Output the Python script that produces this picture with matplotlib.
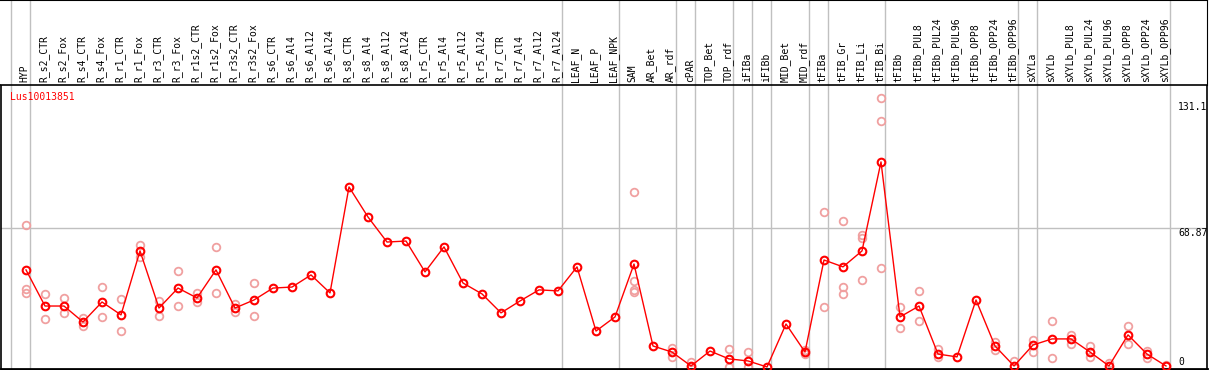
import matplotlib
matplotlib.use('Agg')
import matplotlib.pyplot as plt
import matplotlib.transforms as mtrans
import numpy as np

# sample names along the x axis
samples = ["HYP",
           "R_s2_CTR", "R_s2_Fox", "R_s4_CTR", "R_s4_Fox", "R_r1_CTR", "R_r1_Fox",
           "R_r3_CTR", "R_r3_Fox", "R_r1s2_CTR", "R_r1s2_Fox", "R_r3s2_CTR", "R_r3s2_Fox",
           "R_s6_CTR", "R_s6_Al4", "R_s6_Al12", "R_s6_Al24", "R_s8_CTR", "R_s8_Al4",
           "R_s8_Al12", "R_s8_Al24", "R_r5_CTR", "R_r5_Al4", "R_r5_Al12", "R_r5_Al24",
           "R_r7_CTR", "R_r7_Al4", "R_r7_Al12", "R_r7_Al24",
           "LEAF_N", "LEAF_P", "LEAF_NPK",
           "SAM", "AR_Bet", "AR_rdf",
           "cPAR",
           "TOP_Bet", "TOP_rdf",
           "iFIBa",
           "iFIBb",
           "MID_Bet", "MID_rdf",
           "tFIBa",
           "tFIB_Gr", "tFIB_Li", "tFIB_Bi",
           "tFIBb", "tFIBb_PUL8", "tFIBb_PUL24", "tFIBb_PUL96", "tFIBb_OPP8",
           "tFIBb_OPP24", "tFIBb_OPP96",
           "sXYLa",
           "sXYLb", "sXYLb_PUL8", "sXYLb_PUL24", "sXYLb_PUL96", "sXYLb_OPP8",
           "sXYLb_OPP24", "sXYLb_OPP96"]

# number of samples in each tissue group (separated by grey lines)
group_sizes = [1, 28, 3, 3, 1, 2, 1, 1, 2, 1, 3, 7, 1, 7]

# mean expression
means = [48.1,
         30.2, 30.2, 22.3, 32.2, 25.8, 57.5, 29.2, 39.1, 34.2, 48.1, 29.2, 33.2,
         39.1, 39.6, 45.6, 36.7, 89.2, 74.3, 61.9, 62.4, 47.1, 59.5, 41.6, 36.2,
         26.8, 32.7, 38.2, 37.7,
         49.6, 17.8, 24.8,
         51.0, 10.4, 7.4,
         0.5,
         7.9, 4.0,
         3.0,
         0.0,
         21.3, 7.4,
         53.0,
         49.6, 57.5, 101.6,
         24.8, 30.2, 6.4, 5.0, 33.2, 10.4, 0.5,
         10.9,
         13.9, 13.9, 7.4, 0.5, 15.9, 6.4, 0.5]

# individual replicates
replicates = [[70.4, 38.7, 36.7],
              [36.2, 23.8], [34.2, 26.8], [24.3, 20.3], [39.6, 24.8], [33.7, 17.8],
              [60.5, 54.5], [32.7, 25.3], [47.6, 30.2], [36.7, 32.2], [59.5, 36.7],
              [31.2, 27.3], [41.6, 25.3],
              [], [], [], [], [], [], [], [], [], [], [], [], [], [], [], [],
              [], [], [],
              [86.7, 42.6, 38.2, 37.2], [], [9.4, 5.0],
              [2.5, 0.0],
              [], [8.9, 0.0],
              [7.4, 0.0],
              [],
              [], [8.4, 6.4],
              [76.8, 29.7],
              [72.3, 39.6, 36.2], [65.4, 63.9, 43.1], [133.3, 121.9, 49.1],
              [29.7, 19.3], [37.7, 22.8], [8.9, 5.0], [], [], [12.4, 8.4], [3.0],
              [13.4, 7.4],
              [22.8, 4.5], [15.9, 11.4], [10.4, 5.0], [2.0], [20.3, 11.4], [7.9, 4.5], [1.0]]

y_ticks = [131.1, 68.87, 0]
y_tick_labels = ["131.1", "68.87", "0"]
gene = "Lus10013851"

W, H = 1209, 370
fig = plt.figure(figsize=(W / 100, H / 100), dpi=100)

x = np.arange(len(samples))
x_left = -25 / 19
x_right = 1181 / 19

ax = fig.add_axes([1 / W, 1 / H, 1206 / W, 284 / H])
hd = fig.add_axes([1 / W, 285 / H, 1206 / W, 85 / H])

mono = "DejaVu Sans Mono"
grid_c = "#c0c0c0"

# group separators
ends = np.cumsum(group_sizes) - 1
seps = np.concatenate([[-1], ends]) + 0.21
for a in (ax, hd):
    a.set_xlim(x_left, x_right)
    for s in seps:
        a.axvline(s, color=grid_c, lw=1, zorder=0)
    a.set_xticks([])
    a.set_yticks([])

# header with sample names
hd.set_ylim(0, 85)
for i, name in enumerate(samples):
    hd.text(i - 0.06, 3, name, rotation=90, ha="center", va="bottom",
            fontsize=7, family=mono, color="black")
hd.spines["left"].set_visible(False)
hd.spines["top"].set_linewidth(1.5)
hd.spines["bottom"].set_linewidth(1.2)

# main panel
ax.set_ylim(-1.0, 139.7)
ax.axhline(68.87, color=grid_c, lw=1, zorder=0)
ax.spines["top"].set_visible(False)
ax.spines["bottom"].set_linewidth(2)
ax.spines["left"].set_linewidth(1.2)
ax.spines["right"].set_linewidth(1.2)

rx = [i for i, r in enumerate(replicates) for _ in r]
ry = [v for r in replicates for v in r]
ax.plot(rx, ry, linestyle="none", marker="o", markersize=5.5, markerfacecolor="none",
        markeredgecolor="#f0a0a0", markeredgewidth=1.3, clip_on=False, zorder=2)
ax.plot(x, means, color="red", lw=1, marker="o", markersize=5.5,
        markerfacecolor="none", markeredgecolor="red", markeredgewidth=1.5,
        clip_on=False, zorder=3)

# value labels on the right, the bottom one sits above its line
tr = mtrans.blended_transform_factory(ax.transAxes, ax.transData)
for v, lab in zip(y_ticks, y_tick_labels):
    dy = 5 if v == 0 else -5
    ax.annotate(lab, xy=(1.0, v), xycoords=tr, xytext=(-29, dy), textcoords="offset pixels",
                ha="left", va="center", fontsize=7, family=mono, color="black")

ax.annotate(gene, xy=(0, 1), xycoords="axes fraction", xytext=(9, -12),
            textcoords="offset pixels", ha="left", va="center",
            fontsize=7, family=mono, color="red")

fig.savefig("out.png", dpi=100)
